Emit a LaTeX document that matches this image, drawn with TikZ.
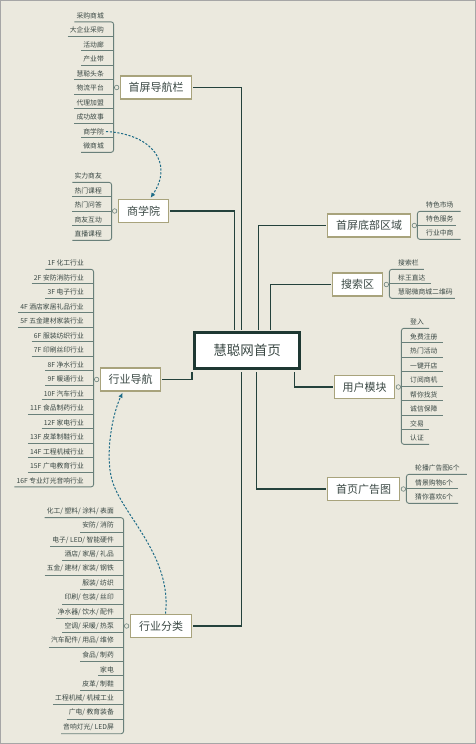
\documentclass[tikz,border=0pt]{standalone}
\usepackage{fontspec}
\setmainfont{Noto Sans CJK SC}
\usepackage{tikz}
\usetikzlibrary{positioning, arrows.meta, calc}
\definecolor{paper}{RGB}{235,233,222}
\definecolor{ink}{RGB}{58,72,68}
\definecolor{boxline}{RGB}{168,163,124}
\definecolor{hubline}{RGB}{30,56,50}
\definecolor{wirecol}{RGB}{36,66,60}
\definecolor{rulecol}{RGB}{105,128,122}
\definecolor{link}{RGB}{30,108,135}
\tikzset{
  hub/.style={
    draw=hubline, line width=3pt, fill=white, text=ink,
    minimum width=105pt, minimum height=36pt, font=\fontsize{13.5}{15}\selectfont
  },
  topic/.style={
    draw=boxline, line width=1.6pt, fill=white, text=ink,
    minimum height=23pt, inner sep=0pt, font=\fontsize{11}{13}\selectfont
  },
  knob/.style={circle, draw=rulecol, fill=paper, line width=0.6pt, minimum size=4.5pt, inner sep=0pt},
  leafL/.style={anchor=east, text=ink, inner xsep=2pt, inner ysep=3pt, font=\fontsize{6.8}{7}\selectfont},
  leafR/.style={leafL, anchor=west},
  wire/.style={draw=wirecol, line width=1.3pt, shorten <=0.8pt, shorten >=1.5pt},
  uline/.style={draw=rulecol, line width=0.9pt},
  bracket/.style={uline, rounded corners=2.5pt},
  jump/.style={draw=link, line width=1pt, dash pattern=on 2.2pt off 1.6pt,
    shorten >=1pt, -{Latex[length=5pt,width=4.5pt]}},
}
\begin{document}
\begin{tikzpicture}[x=1pt, y=-1pt]
  \fill[paper] (0,0) rectangle (476,744);
  \draw[gray!70, line width=0.8pt] (0.4,0.4) rectangle (475.6,743.6);
  \useasboundingbox (0,0) rectangle (476,744);

  % hub and topics
  \node[hub] (home) at (247,350.5) {慧聪网首页};
  \node[topic, minimum width=71pt] (nav) at (156,87.5) {首屏导航栏};
  \node[topic, minimum width=50pt] (school) at (143.5,211) {商学院};
  \node[topic, minimum width=60pt] (trade) at (130.5,379.5) {行业导航};
  \node[topic, minimum width=61pt] (sort) at (161,626) {行业分类};
  \node[topic, minimum width=83pt] (foot) at (369,225.5) {首屏底部区域};
  \node[topic, minimum width=50pt] (search) at (357.5,284.5) {搜索区};
  \node[topic, minimum width=60pt] (user) at (364.5,387) {用户模块};
  \node[topic, minimum width=72pt] (ad) at (363.5,489) {首页广告图};

  % wires to the hub
  \draw[wire] (nav.east) -| ([xshift=48.5pt]home.north west);
  \draw[wire] (school.east) -| ([xshift=41.5pt]home.north west);
  \draw[wire] (foot.west) -| ([xshift=65.5pt]home.north west);
  \draw[wire] (search.west) -| ([xshift=77.5pt]home.north west);
  \draw[wire] (trade.east) -| ([xshift=-1pt]home.south west);
  \draw[wire] (sort.east) -| ([xshift=48.5pt]home.south west);
  \draw[wire] (ad.west) -| ([xshift=63.5pt]home.south west);
  \draw[wire] (user.west) -| ([xshift=-6.5pt]home.south east);

  % knobs and bracket lines
  \node[knob, left=0.5pt of nav] (navk) {};
  \coordinate[left=0.5pt of navk] (navb);
  \node[knob, left=0.5pt of school] (schoolk) {};
  \coordinate[left=0.5pt of schoolk] (schoolb);
  \node[knob, left=0.5pt of trade] (tradek) {};
  \coordinate[left=0.5pt of tradek] (tradeb);
  \node[knob, left=0.5pt of sort] (sortk) {};
  \coordinate[left=0.5pt of sortk] (sortb);
  \node[knob, right=0.5pt of foot] (footk) {};
  \coordinate[right=0.5pt of footk] (footb);
  \node[knob, right=0.5pt of search] (searchk) {};
  \coordinate[right=0.5pt of searchk] (searchb);
  \node[knob, right=0.5pt of user] (userk) {};
  \coordinate[right=0.5pt of userk] (userb);
  \node[knob, right=0.5pt of ad] (adk) {};
  \coordinate[right=0.5pt of adk] (adb);

  % left leaves
  \foreach \t [count=\i] in {采购商城,大企业采购,活动廊,产业带,慧聪头条,物流平台,代理加盟,成功故事,商学院,微商城}
    \node[leafL] (nav\i) at (106,{15.5+14.5*(\i-1)}) {\t};
  \foreach \i in {2,...,9}
    \draw[uline] (nav\i.south west) -- (nav\i.south west -| navb);
  \draw[bracket] (nav1.south west) -- (nav1.south west -| navb) -- (nav10.south west -| navb) -- (nav10.south west);

  \foreach \t [count=\i] in {实力商友,热门课程,热门问答,商友互动,直播课程}
    \node[leafL] (school\i) at (104,{176+14.5*(\i-1)}) {\t};
  \foreach \i in {2,...,4}
    \draw[uline] (school\i.south west) -- (school\i.south west -| schoolb);
  \draw[bracket] (school1.south west) -- (school1.south west -| schoolb) -- (school5.south west -| schoolb) -- (school5.south west);

  \foreach \t [count=\i] in {1F 化工行业,2F 安防消防行业,3F 电子行业,4F 酒店家居礼品行业,5F 五金建材家装行业,6F 服装纺织行业,7F 印刷丝印行业,8F 净水行业,9F 暖通行业,10F 汽车行业,11F 食品制药行业,12F 家电行业,13F 皮革制鞋行业,14F 工程机械行业,15F 广电教育行业,16F 专业灯光音响行业}
    \node[leafL] (trade\i) at (86,{263+14.5*(\i-1)}) {\t};
  \foreach \i in {2,...,15}
    \draw[uline] (trade\i.south west) -- (trade\i.south west -| tradeb);
  \draw[bracket] (trade1.south west) -- (trade1.south west -| tradeb) -- (trade16.south west -| tradeb) -- (trade16.south west);

  \foreach \t [count=\i] in {化工/ 塑料/ 涂料/ 表面,安防/ 消防,电子/ LED/ 智能硬件,酒店/ 家居/ 礼品,五金/ 建材/ 家装/ 钢铁,服装/ 纺织,印刷/ 包装/ 丝印,净水器/ 饮水/ 配件,空调/ 采暖/ 热泵,汽车配件/ 用品/ 维修,食品/ 制药,家电,皮革/ 制鞋,工程机械/ 机械工业,广电/ 教育装备,音响灯光/ LED屏}
    \node[leafL] (sort\i) at (116,{511+14.4*(\i-1)}) {\t};
  \foreach \i in {2,...,15}
    \draw[uline] (sort\i.south west) -- (sort\i.south west -| sortb);
  \draw[bracket] (sort1.south west) -- (sort1.south west -| sortb) -- (sort16.south west -| sortb) -- (sort16.south west);

  % right leaves
  \foreach \t [count=\i] in {特色市场,特色服务,行业中商}
    \node[leafR] (foot\i) at (424,{205+14*(\i-1)}) {\t};
  \draw[uline] (foot2.south east) -- (foot2.south east -| footb);
  \draw[bracket] ([xshift=5pt]foot1.south east) -- (foot1.south east -| footb) -- (foot3.south east -| footb) -- ([xshift=5pt]foot3.south east);

  \foreach \t [count=\i] in {搜索栏,标王直达,慧聪微商城二维码}
    \node[leafR] (search\i) at (396,{263+14.5*(\i-1)}) {\t};
  \draw[uline] ([xshift=3pt]search2.south east) -- (search2.south east -| searchb);
  \draw[bracket] ([xshift=3pt]search1.south east) -- (search1.south east -| searchb) -- (search3.south east -| searchb) -- (search3.south east);

  \foreach \t [count=\i] in {登入,免费注册,热门活动,一键开店,订阅商机,帮你找货,诚信保障,交易,认证}
    \node[leafR] (user\i) at (408,{322+14.5*(\i-1)}) {\t};
  \foreach \i in {2,...,8}
    \draw[uline] ([xshift=3pt]user\i.south east) -- (user\i.south east -| userb);
  \draw[bracket] ([xshift=3pt]user1.south east) -- (user1.south east -| userb) -- (user9.south east -| userb) -- ([xshift=3pt]user9.south east);

  \foreach \t [count=\i] in {轮播广告图6个,情景购物6个,猜你喜欢6个}
    \node[leafR] (ad\i) at (413,{468+14.5*(\i-1)}) {\t};
  \draw[uline] ([xshift=3pt]ad2.south east) -- (ad2.south east -| adb);
  \draw[bracket] ([xshift=5pt]ad1.south east) -- (ad1.south east -| adb) -- (ad3.south east -| adb) -- ([xshift=3pt]ad3.south east);

  % dashed cross links
  \draw[jump] (nav9.east) .. controls (152,134) and (174,163) .. ([xshift=6.5pt]school.north);
  \coordinate (sway) at (112,480);
  \draw[jump] ([xshift=4.5pt]sort.north) .. controls (172,555) and (122,515) .. (sway)
    .. controls (105,455) and (112,415) .. ([xshift=-7.5pt]trade.south);
\end{tikzpicture}
\end{document}
